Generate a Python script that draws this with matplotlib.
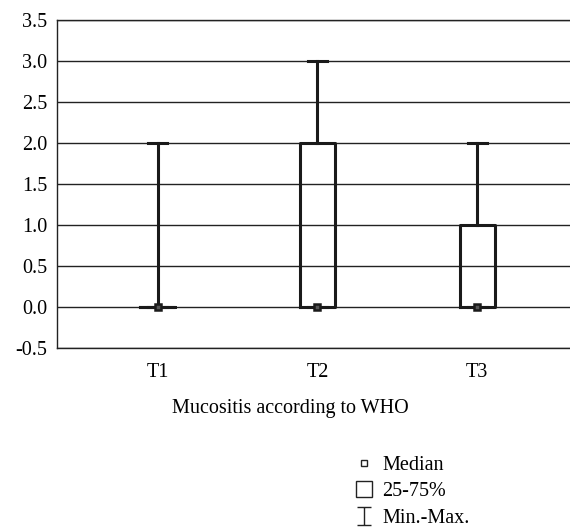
import numpy as np
import matplotlib
matplotlib.use("Agg")
import matplotlib.pyplot as plt
from matplotlib.lines import Line2D
from matplotlib.path import Path

plt.rcParams['font.family'] = ['Liberation Serif', 'DejaVu Serif']

# data
groups = ["T1", "T2", "T3"]
mins = [0.0, 0.0, 0.0]
q25 = [0.0, 0.0, 0.0]
medians = [0.0, 0.0, 0.0]
q75 = [0.0, 2.0, 1.0]
maxs = [2.0, 3.0, 2.0]
yticks = [-0.5, 0.0, 0.5, 1.0, 1.5, 2.0, 2.5, 3.0, 3.5]

fig = plt.figure(figsize=(5.7, 5.29), dpi=100)
ax = fig.add_axes([0.1, 0.342, 0.9, 0.62])

stats = []
for i in range(len(groups)):
    stats.append({"label": groups[i], "whislo": mins[i], "q1": q25[i],
                  "med": medians[i], "q3": q75[i], "whishi": maxs[i]})

pos = np.arange(len(groups))
lw = 2.2
ax.bxp(stats, positions=pos, widths=0.22, showfliers=False, manage_ticks=False,
       boxprops=dict(color="#1a1a1a", linewidth=lw),
       whiskerprops=dict(color="#1a1a1a", linewidth=lw),
       capprops=dict(color="#1a1a1a", linewidth=lw),
       medianprops=dict(visible=False), capwidths=0.12, zorder=3)

ax.plot(pos, medians, "s", ms=5, mfc="#555555", mec="#1a1a1a", mew=1.8,
        ls="none", zorder=4)

ax.set_xlim(-0.63, 2.58)
ax.set_ylim(-0.5, 3.5)
ax.set_yticks(yticks)
ax.set_yticklabels(["%.1f" % v for v in yticks], fontsize=14.5)
ax.set_xticks(pos)
ax.set_xticklabels(groups, fontsize=14.5)
ax.tick_params(axis="y", length=0, pad=7)
ax.tick_params(axis="x", length=0, pad=11)
ax.yaxis.grid(True, color="#222222", linewidth=1.0)
ax.set_axisbelow(True)
ax.spines["right"].set_visible(False)
for s in ["left", "bottom", "top"]:
    ax.spines[s].set_color("#222222")
    ax.spines[s].set_linewidth(1.0)
ax.set_xlabel("Mucositis according to WHO", fontsize=14.5, labelpad=12)
ax.xaxis.label.set_x(0.454)

# I-beam marker for min-max
ibeam = Path([(-0.7, 1), (0.7, 1), (0, 1), (0, -1), (-0.7, -1), (0.7, -1)],
             [Path.MOVETO, Path.LINETO, Path.MOVETO, Path.LINETO,
              Path.MOVETO, Path.LINETO])

handles = [
    Line2D([], [], marker="s", ms=4.5, mfc="white", mec="#222222", mew=1.0, ls="none"),
    Line2D([], [], marker="s", ms=11.5, mfc="white", mec="#222222", mew=1.0, ls="none"),
    Line2D([], [], marker=ibeam, ms=13.5, mfc="none", mec="#222222", mew=1.0, ls="none"),
]
labels = ["Median", "25-75%", "Min.-Max."]
fig.legend(handles, labels, loc="upper left", bbox_to_anchor=(0.604, 0.158),
           frameon=False, fontsize=14.5, handlelength=1.0, handletextpad=0.38,
           labelspacing=0.38, borderpad=0)

fig.savefig("out.png", dpi=100)
